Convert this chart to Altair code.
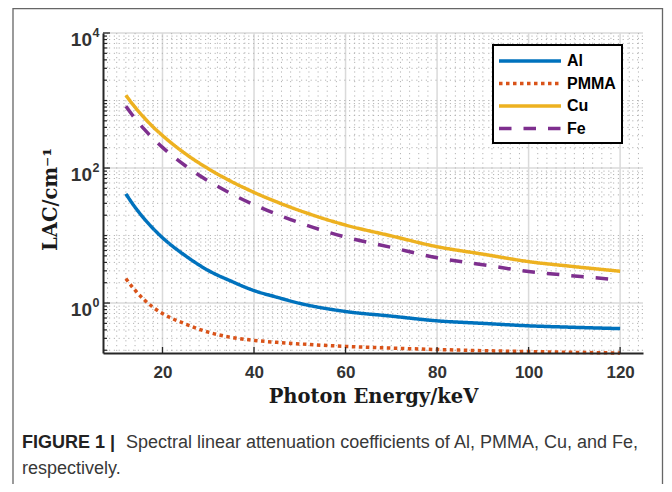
import altair as alt
import pandas as pd

# ---- data ----
energy = [12, 14, 16, 18, 20, 25, 30, 35, 40, 45, 50, 60, 70, 80, 90, 100, 110, 120]
al = [41.4, 26.3, 17.8, 12.6, 9.29, 5.03, 3.04, 2.11, 1.53, 1.22, 0.99, 0.75, 0.64, 0.545, 0.50, 0.46, 0.437, 0.418]
pmma = [2.3, 1.55, 1.12, 0.86, 0.70, 0.49, 0.37, 0.31, 0.28, 0.262, 0.248, 0.228, 0.215, 0.205, 0.197, 0.191, 0.186, 0.182]
cu = [1195, 796, 557, 403, 303, 163, 97.8, 63.4, 43.6, 31.4, 23.4, 14.3, 9.88, 6.84, 5.30, 4.11, 3.46, 2.96]
fe = [821, 541, 376, 271, 202, 108, 64.4, 41.7, 28.6, 20.6, 15.4, 9.49, 6.67, 4.69, 3.70, 2.93, 2.52, 2.20]

materials = ["Al", "PMMA", "Cu", "Fe"]
colors = ["#0072BD", "#D95319", "#EDB120", "#7E2F8E"]
dashes = [[1, 0], [3.5, 3.5], [1, 0], [12.5, 12]]

x_major = [20, 40, 60, 80, 100, 120]
x_minor = [v for v in range(8, 125, 2) if v % 20]
y_major = [1, 100, 10000]
y_exp = ["0", "2", "4"]
y_minor = [m * 10.0 ** e for e in range(-1, 4) for m in range(1, 10)
           if not (m == 1 and e % 2 == 0)]
y_minor = [v for v in y_minor if 0.182 <= v < 10000]

caption_bold = "FIGURE 1 |"
caption_1 = "Spectral linear attenuation coefficients of Al, PMMA, Cu, and Fe,"
caption_2 = "respectively."

rows = []
for name, vals in zip(materials, [al, pmma, cu, fe]):
    for e, v in zip(energy, vals):
        rows.append({"energy": e, "lac": v, "material": name})
df = pd.DataFrame(rows)

W, H = 540, 320
xs = alt.Scale(domain=[7, 125], nice=False, zero=False)
ys = alt.Scale(type="log", domain=[0.182, 10000], nice=False)

AX = "#262626"
LBL = "#333333"

x_axis = alt.Axis(
    values=x_major, grid=False, ticks=False, domainColor=AX, domainWidth=2,
    labelFont="Liberation Sans", labelFontWeight="bold", labelFontSize=17,
    labelColor=LBL, labelPadding=11, labelFlush=False,
    title="Photon Energy/keV", titleFont="DejaVu Serif", titleFontWeight="bold",
    titleFontSize=19.5, titleColor="#1a1a1a", titleX=270, titleY=49,
    titleAlign="center", titleBaseline="alphabetic", zindex=1)
y_axis = alt.Axis(
    values=y_major, labels=False, ticks=False, grid=False,
    domainColor=AX, domainWidth=2,
    title="LAC/cm⁻¹", titleFont="DejaVu Serif", titleFontWeight="bold",
    titleFontSize=19.5, titleColor="#1a1a1a", titleX=-47, titleY=166,
    titleAngle=270, titleAlign="center", titleBaseline="alphabetic", zindex=1)

frame = alt.Chart(pd.DataFrame({"a": [0]})).mark_rect(
    fillOpacity=0, stroke="#666666", strokeWidth=1.3
).encode(x=alt.value(-90), x2=alt.value(559.5), y=alt.value(-24.3), y2=alt.value(480))

minor_h = alt.Chart(pd.DataFrame({"v": y_minor})).mark_rule(
    color="#b4b4b4", strokeWidth=1, strokeDash=[1.2, 3.6]
).encode(y=alt.Y("v:Q", scale=ys, axis=y_axis))
minor_v = alt.Chart(pd.DataFrame({"v": x_minor})).mark_rule(
    color="#b4b4b4", strokeWidth=1, strokeDash=[1.2, 3.6]
).encode(x=alt.X("v:Q", scale=xs, axis=x_axis))
major_h = alt.Chart(pd.DataFrame({"v": y_major})).mark_rule(
    color="#dadada", strokeWidth=1.5
).encode(y=alt.Y("v:Q", scale=ys, axis=y_axis))
major_v = alt.Chart(pd.DataFrame({"v": x_major})).mark_rule(
    color="#dadada", strokeWidth=1.5
).encode(x=alt.X("v:Q", scale=xs, axis=x_axis))

legend = alt.Legend(
    title=None, orient="none", legendX=390, legendY=12,
    symbolType="M-3.875,0H3.875", symbolSize=256, symbolStrokeWidth=3.5,
    symbolOffset=21, labelOffset=27,
    labelFont="Liberation Sans", labelFontWeight="bold", labelFontSize=16,
    labelColor="black", padding=6, rowPadding=4.5,
    strokeColor="black", fillColor="white",
)

lines = alt.Chart(df).mark_line(
    strokeWidth=3.5, interpolate="monotone", strokeCap="butt"
).encode(
    x=alt.X("energy:Q", scale=xs, axis=x_axis),
    y=alt.Y("lac:Q", scale=ys, axis=y_axis),
    color=alt.Color("material:N", scale=alt.Scale(domain=materials, range=colors), legend=legend),
    strokeDash=alt.StrokeDash("material:N", scale=alt.Scale(domain=materials, range=dashes), legend=legend),
)

ytick_major = alt.Chart(pd.DataFrame({"v": y_major})).mark_rule(color=AX, strokeWidth=1.3).encode(
    y=alt.Y("v:Q", scale=ys, axis=y_axis), x=alt.value(0), x2=alt.value(7))
ytick_minor = alt.Chart(pd.DataFrame({"v": y_minor})).mark_rule(color=AX, strokeWidth=1.2).encode(
    y=alt.Y("v:Q", scale=ys, axis=y_axis), x=alt.value(0), x2=alt.value(4))
xtick = alt.Chart(pd.DataFrame({"v": x_major})).mark_rule(color=AX, strokeWidth=1.3).encode(
    x=alt.X("v:Q", scale=xs, axis=x_axis), y=alt.value(H), y2=alt.value(H - 6))

ylab = alt.Chart(pd.DataFrame({"v": y_major, "e": y_exp})).mark_text(
    align="right", baseline="middle", dy=6.5, font="Liberation Sans",
    fontWeight="bold", fontSize=19, color=LBL
).encode(y=alt.Y("v:Q", scale=ys, axis=y_axis), x=alt.value(-11), text=alt.value("10"))
yexp = alt.Chart(pd.DataFrame({"v": y_major, "e": y_exp})).mark_text(
    align="left", baseline="middle", dy=0, font="Liberation Sans",
    fontWeight="bold", fontSize=12.5, color=LBL
).encode(y=alt.Y("v:Q", scale=ys, axis=y_axis), x=alt.value(-10.5), text="e:N")

cap_b = alt.Chart(pd.DataFrame({"t": [caption_bold]})).mark_text(
    align="left", baseline="alphabetic", font="Liberation Sans", fontWeight="bold",
    fontSize=18, color="#222222"
).encode(x=alt.value(-81), y=alt.value(415), text="t:N")
cap_1 = alt.Chart(pd.DataFrame({"t": [caption_1]})).mark_text(
    align="left", baseline="alphabetic", font="Liberation Sans",
    fontSize=18, color="#383838"
).encode(x=alt.value(23), y=alt.value(415), text="t:N")
cap_2 = alt.Chart(pd.DataFrame({"t": [caption_2]})).mark_text(
    align="left", baseline="alphabetic", font="Liberation Sans",
    fontSize=18, color="#383838"
).encode(x=alt.value(-81), y=alt.value(441), text="t:N")

chart = alt.layer(
    frame, major_h, major_v, minor_h, minor_v, lines,
    ytick_major, ytick_minor, xtick, ylab, yexp, cap_b, cap_1, cap_2
).properties(
    width=W, height=H,
    autosize=alt.AutoSizeParams(type="none"),
    padding={"left": 95, "right": 21, "top": 25, "bottom": 131},
    background="white",
).configure_view(strokeWidth=0).configure_legend(strokeWidth=2)

chart.save("out.html", embed_options={"renderer": "svg", "actions": False})
